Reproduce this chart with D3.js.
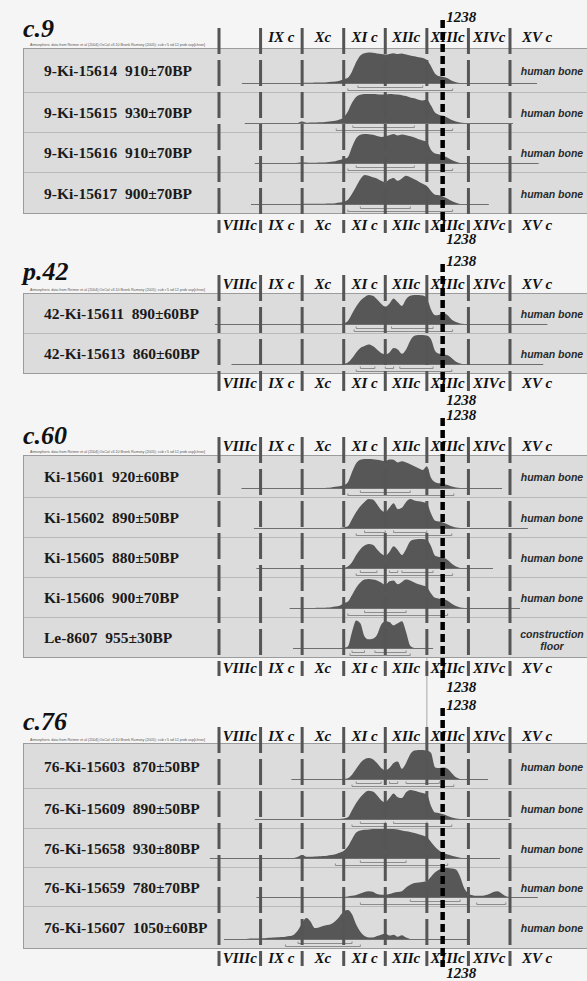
<!DOCTYPE html>
<html>
<head>
<meta charset="utf-8">
<title>Radiocarbon dates - calibrated distributions</title>
<script src="https://d3js.org/d3.v7.min.js"></script>
<style>
  body { margin: 0; background: #f5f5f5; }
  svg { display: block; }
  .title { font-family: "Liberation Serif", serif; font-weight: bold; font-style: italic; font-size: 26px; fill: #111; }
  .cent, .yr { font-family: "Liberation Serif", serif; font-weight: bold; font-style: italic; font-size: 15px; fill: #111; }
  .lab { font-family: "Liberation Serif", serif; font-weight: bold; font-size: 15.5px; fill: #1a1a1a; white-space: pre; }
  .mat { font-family: "Liberation Sans", sans-serif; font-weight: bold; font-style: italic; font-size: 10.5px; fill: #2a2a2a; }
  .note { font-family: "Liberation Sans", sans-serif; font-size: 3.6px; fill: #555; }
</style>
</head>
<body>
<div id="chart"></div>
<script>
// ---- data ----
const panelNames = ["c.9", "p.42", "c.60", "c.76"];
const centuryNames = ["VIIIc", "IX c", "Xc", "XI c", "XIIc", "XIIIc", "XIVc", "XV c"];
const centuryStarts = [700, 800, 900, 1000, 1100, 1200, 1300, 1400];
const markerYear = 1238;
const noteText = "Atmospheric data from Reimer et al (2004);OxCal v3.10 Bronk Ramsey (2005); cub r:5 sd:12 prob usp[chron]";

const sampleLabels = [
  "9-Ki-15614  910±70BP", "9-Ki-15615  930±70BP", "9-Ki-15616  910±70BP", "9-Ki-15617  900±70BP",
  "42-Ki-15611  890±60BP", "42-Ki-15613  860±60BP",
  "Ki-15601  920±60BP", "Ki-15602  890±50BP", "Ki-15605  880±50BP", "Ki-15606  900±70BP", "Le-8607  955±30BP",
  "76-Ki-15603  870±50BP", "76-Ki-15609  890±50BP", "76-Ki-15658  930±80BP", "76-Ki-15659  780±70BP", "76-Ki-15607  1050±60BP"
];
const samplePanel = [0, 0, 0, 0, 1, 1, 2, 2, 2, 2, 2, 3, 3, 3, 3, 3];
const sampleMaterial = [
  "human bone", "human bone", "human bone", "human bone",
  "human bone", "human bone",
  "human bone", "human bone", "human bone", "human bone", "construction\nfloor",
  "human bone", "human bone", "human bone", "human bone", "human bone"
];

// probability curves, relative height, one value every 10 years from densStart
const densStart = [900, 890, 880, 900, 990, 1000, 950, 990, 1000, 930, 1000, 1000, 990, 880, 1000, 760];
const densities = [
  [0,0.01,0.01,0.02,0.02,0.02,0.03,0.04,0.05,0.08, 0.13,0.18,0.4,0.72,0.95,1.03,1.05,1.04,1.02,1.0, 0.98,1.0,1.03,1.0,1.02,0.98,0.95,0.92,0.89,0.86, 0.79,0.58,0.32,0.23,0.21,0.16,0.08,0.03,0],
  [0,0.05,0.01,0.02,0.02,0.03,0.03,0.04,0.06,0.08, 0.12,0.2,0.4,0.7,0.9,0.97,1,1,1,0.99, 0.98,0.98,1,0.99,0.98,0.96,0.93,0.88,0.85,0.8, 0.78,0.8,0.6,0.35,0.28,0.25,0.18,0.1,0.05,0.02, 0],
  [0,0.01,0.02,0.02,0.01,0.01,0.02,0.02,0.03,0.04, 0.06,0.1,0.14,0.2,0.55,0.85,0.97,1,0.99,0.97, 0.93,0.9,0.92,0.96,1,0.95,0.98,0.96,0.92,0.88, 0.82,0.78,0.72,0.45,0.33,0.3,0.25,0.18,0.1,0.04, 0],
  [0,0.01,0.01,0.01,0.01,0.01,0.02,0.02,0.03,0.05, 0.08,0.15,0.35,0.6,0.85,1,0.97,0.92,0.88,0.8, 0.75,0.85,0.9,0.8,0.88,0.97,0.92,0.85,0.78,0.7, 0.62,0.45,0.32,0.3,0.25,0.18,0.1,0.04,0],
  [0,0.02,0.1,0.35,0.6,0.8,0.92,1.0,0.97,0.85, 0.7,0.6,0.7,0.88,0.75,0.62,0.85,0.97,1.0,1.0, 0.98,0.9,0.5,0.3,0.32,0.38,0.3,0.15,0.07,0.02, 0],
  [0,0.05,0.2,0.4,0.55,0.62,0.67,0.62,0.5,0.38, 0.33,0.4,0.55,0.5,0.35,0.5,0.8,0.97,1.0,1.0, 0.98,0.85,0.45,0.35,0.33,0.3,0.2,0.08,0.02,0],
  [0,0.01,0.02,0.04,0.06, 0.1,0.2,0.55,0.85,0.97,1,1,0.99,0.97,0.95, 0.92,0.98,0.97,0.88,0.92,0.88,0.82,0.75,0.68,0.62, 0.75,0.35,0.2,0.16,0.14,0.1,0.05,0.02,0],
  [0,0.02,0.06,0.3,0.55,0.75,0.9,1.0,0.98,0.82, 0.62,0.55,0.7,0.85,0.65,0.7,0.9,1.0,0.95,0.92, 0.9,0.85,0.5,0.25,0.22,0.18,0.12,0.06,0.02,0],
  [0,0.05,0.2,0.45,0.65,0.78,0.83,0.8,0.65,0.5, 0.42,0.55,0.75,0.62,0.45,0.65,0.92,0.98,1.0,1.0, 0.97,0.75,0.42,0.38,0.35,0.28,0.15,0.05,0],
  [0,0.01,0.01,0.02,0.03,0.05,0.08, 0.16,0.22,0.45,0.7,0.88,0.98,1,0.98,0.95,0.88, 0.8,0.92,0.95,0.82,0.9,0.98,0.95,0.88,0.82,0.78, 0.72,0.5,0.35,0.32,0.3,0.25,0.15,0.07,0.02,0],
  [0,0.05,0.55,0.95,0.85,0.4,0.3,0.32,0.45,0.8, 0.92,0.9,0.78,0.85,0.92,0.55,0.08,0],
  [0,0.03,0.15,0.35,0.55,0.68,0.72,0.68,0.55,0.38, 0.3,0.38,0.55,0.6,0.35,0.55,0.85,0.98,1.0,1.0, 0.98,0.9,0.4,0.38,0.4,0.35,0.2,0.06,0],
  [0,0.02,0.06,0.3,0.55,0.75,0.9,0.97,0.95,0.82, 0.65,0.58,0.72,0.88,0.75,0.72,0.92,1.0,0.97,0.93, 0.9,0.85,0.45,0.22,0.2,0.16,0.1,0.05,0.02,0],
  [0,0.04,0.1,0.04,0.04,0.05,0.06,0.07,0.08,0.1, 0.13,0.18,0.25,0.4,0.65,0.88,0.95,0.97,0.98,1.0, 1,1,1,1,1,0.98,0.95,0.92,0.9,0.86, 0.82,0.78,0.72,0.55,0.38,0.25,0.18,0.12,0.08,0.04, 0.01,0],
  [0,0.02,0.04,0.07,0.12,0.17,0.2,0.18,0.1,0.08, 0.08,0.1,0.15,0.17,0.2,0.33,0.42,0.48,0.5,0.52, 0.55,0.7,0.85,0.95,1.0,1.0,0.98,0.95,0.7,0.3, 0.12,0.06,0.04,0.04,0.06,0.1,0.17,0.2,0.12,0.03, 0],
  [0,0.01,0.02,0.02,0.03,0.03,0.04,0.05,0.06,0.07, 0.08,0.1,0.15,0.3,0.55,0.72,0.6,0.38,0.4,0.45, 0.48,0.52,0.62,0.78,0.95,1.0,0.85,0.5,0.25,0.1, 0.05,0.05,0.1,0.15,0.18,0.12,0.15,0.08,0.13,0.05, 0]
];

// horizontal time axis of each plot and the 1 sigma / 2 sigma ranges (years AD)
const axisSpans = [
  [755, 1465], [762, 1407], [786, 1469], [777, 1349],
  [690, 1490], [730, 1480],
  [754, 1381], [784, 1443], [790, 1359], [870, 1424], [878, 1215],
  [874, 1347], [786, 1400], [678, 1376], [790, 1467], [712, 1303]
];
const sigma1 = [
  [[1034, 1190]], [[1022, 1170]], [[1030, 1170]], [[1040, 1160]],
  [[1030, 1100], [1115, 1215]], [[1040, 1075], [1100, 1120], [1135, 1215]],
  [[1040, 1160]], [[1050, 1100], [1120, 1200]], [[1040, 1080], [1110, 1130], [1140, 1215]], [[1050, 1150]], [[1020, 1050], [1075, 1150]],
  [[1030, 1090], [1110, 1130], [1150, 1230]], [[1040, 1100], [1120, 1200]], [[1040, 1150]], [[1160, 1280]], [[890, 1020]]
];
const sigma2 = [
  [[1010, 1262]], [[982, 1262]], [[1010, 1262]], [[1010, 1262]],
  [[1025, 1262]], [[1030, 1260]],
  [[1010, 1265]], [[1030, 1260]], [[1030, 1262]], [[1010, 1250]], [[1015, 1160]],
  [[1020, 1265]], [[1020, 1260]], [[980, 1250]], [[1040, 1300], [1320, 1390]], [[860, 1040]]
];

// ---- layout ----
const W = 587, H = 981;
const layout = [
  { title: 37, yrTop: 22, labTop: 42, box: 48, rows: [44, 40, 40, 41], labBot: 230, yrBot: 244, skipFirst: true },
  { title: 280, yrTop: 266, labTop: 289, box: 293, rows: [40, 40], labBot: 388, yrBot: 405 },
  { title: 444, yrTop: 420, labTop: 451, box: 455, rows: [42, 40, 40, 40, 40], labBot: 673, yrBot: 692 },
  { title: 730, yrTop: 710, labTop: 741, box: 743, rows: [45, 40, 39, 39, 42], labBot: 963, yrBot: 978 }
];

const svg = d3.select("#chart").append("svg").attr("width", W).attr("height", H);
svg.append("rect").attr("width", W).attr("height", H).attr("fill", "#f5f5f5");

const x = d3.scaleLinear().domain([700, 1400]).range([219, 510]);
const hMax = 29;

// faint line at 1200 between c.60 and c.76
svg.append("line")
  .attr("x1", x(1200)).attr("x2", x(1200))
  .attr("y1", 622).attr("y2", 743)
  .attr("stroke", "#a8a8a8").attr("stroke-width", 1);

layout.forEach((p, pi) => {
  const g = svg.append("g");
  const edges = [p.box];
  p.rows.forEach(h => edges.push(edges[edges.length - 1] + h));
  const boxBottom = edges[edges.length - 1];

  g.append("rect")
    .attr("x", 23.5).attr("y", p.box + 0.5)
    .attr("width", 580).attr("height", boxBottom - p.box)
    .attr("fill", "#dcdcdc").attr("stroke", "#9c9c9c");

  g.selectAll(".div").data(edges.slice(1, -1)).join("line")
    .attr("x1", 24).attr("x2", W)
    .attr("y1", d => d + 0.5).attr("y2", d => d + 0.5)
    .attr("stroke", "#b9b9b9");

  const idx = d3.range(sampleLabels.length).filter(k => samplePanel[k] === pi);
  idx.forEach((k, r) => {
    const top = edges[r], bottom = edges[r + 1];
    const mid = (top + bottom) / 2;
    const axisY = bottom - 9;
    const y = d3.scaleLinear().domain([0, 1]).range([axisY, axisY - hMax]);

    g.append("text").attr("class", "lab")
      .attr("x", 44).attr("y", mid + 6).text(sampleLabels[k]);

    const pts = densities[k].map((v, i) => ({ year: densStart[k] + i * 10, v }));
    const area = d3.area()
      .x(d => x(d.year)).y0(axisY).y1(d => y(d.v))
      .curve(d3.curveMonotoneX);
    g.append("path").attr("d", area(pts)).attr("fill", "#575757");

    g.append("line")
      .attr("x1", x(axisSpans[k][0])).attr("x2", x(axisSpans[k][1]))
      .attr("y1", axisY + 0.5).attr("y2", axisY + 0.5)
      .attr("stroke", "#6e6e6e").attr("stroke-width", 1);

    [[sigma1[k], 4], [sigma2[k], 7]].forEach(([ranges, dy]) => {
      ranges.forEach(([a, b]) => {
        const yy = axisY + dy + 0.5;
        g.append("path")
          .attr("d", `M${x(a)},${yy - 2}V${yy}H${x(b)}V${yy - 2}`)
          .attr("fill", "none").attr("stroke", "#8c8c8c").attr("stroke-width", 1);
      });
    });

    const lines = sampleMaterial[k].split("\n");
    const t = g.append("text").attr("class", "mat").attr("text-anchor", "middle");
    lines.forEach((s, j) => {
      t.append("tspan").attr("x", 552)
        .attr("y", lines.length > 1 ? mid + 1 + j * 12 : mid + 5)
        .text(s);
    });
  });

  // century division lines
  g.selectAll(".cl").data(centuryStarts).join("line")
    .attr("x1", d => x(d)).attr("x2", d => x(d))
    .attr("y1", p.labTop - 14).attr("y2", p.labBot + 3)
    .attr("stroke", "#555").attr("stroke-width", 3)
    .attr("stroke-dasharray", "26,6");

  const cent = centuryNames.map((n, i) => ({ n, c: centuryStarts[i] + (i === centuryNames.length - 1 ? 65 : 50) }));
  g.selectAll(".ct").data(p.skipFirst ? cent.slice(1) : cent).join("text")
    .attr("class", "cent").attr("text-anchor", "middle")
    .attr("x", d => x(d.c)).attr("y", p.labTop).text(d => d.n);
  g.selectAll(".cb").data(cent).join("text")
    .attr("class", "cent").attr("text-anchor", "middle")
    .attr("x", d => x(d.c)).attr("y", p.labBot).text(d => d.n);

  // 1238 marker
  g.append("line")
    .attr("x1", x(markerYear)).attr("x2", x(markerYear))
    .attr("y1", p.yrTop - 2).attr("y2", p.yrBot - 11)
    .attr("stroke", "#000").attr("stroke-width", 4.5)
    .attr("stroke-dasharray", "8,4");
  g.append("text").attr("class", "yr").attr("x", x(markerYear) + 3.5).attr("y", p.yrTop).text(markerYear);
  g.append("text").attr("class", "yr").attr("x", x(markerYear) + 3.5).attr("y", p.yrBot).text(markerYear);

  g.append("text").attr("class", "title").attr("x", 23).attr("y", p.title).text(panelNames[pi]);
  g.append("text").attr("class", "note")
    .attr("x", 30).attr("y", p.box - 2.5)
    .attr("textLength", 175).attr("lengthAdjust", "spacingAndGlyphs")
    .text(noteText);
});
</script>
</body>
</html>
